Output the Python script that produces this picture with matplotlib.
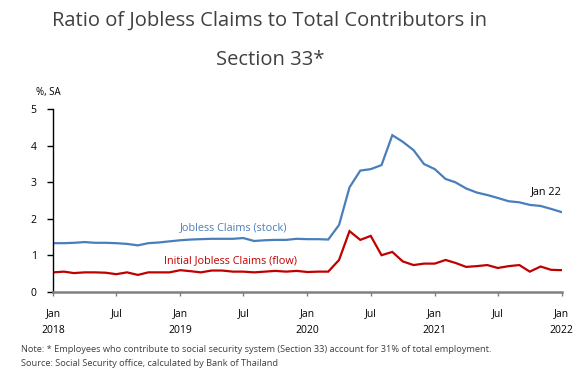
import matplotlib
matplotlib.use("Agg")
import matplotlib.pyplot as plt
import numpy as np
import pandas as pd

# Monthly series, Jan 2018 - Jan 2022 (% of Section 33 contributors, SA)
months = pd.date_range("2018-01-01", "2022-01-01", freq="MS")

stock = [
    1.33, 1.33, 1.34, 1.36, 1.34, 1.34, 1.33, 1.31, 1.27, 1.33, 1.35, 1.38,   # 2018
    1.41, 1.43, 1.44, 1.45, 1.45, 1.45, 1.47, 1.39, 1.41, 1.42, 1.42, 1.45,   # 2019
    1.44, 1.44, 1.43, 1.83, 2.86, 3.32, 3.36, 3.47, 4.29, 4.11, 3.88, 3.50,   # 2020
    3.36, 3.09, 3.00, 2.83, 2.72, 2.65, 2.57, 2.48, 2.45, 2.38, 2.35, 2.27,   # 2021
    2.18,                                                                     # 2022
]

flow = [
    0.53, 0.55, 0.51, 0.53, 0.53, 0.52, 0.48, 0.53, 0.46, 0.53, 0.53, 0.53,   # 2018
    0.59, 0.56, 0.53, 0.58, 0.58, 0.55, 0.55, 0.53, 0.55, 0.57, 0.55, 0.57,   # 2019
    0.54, 0.55, 0.55, 0.87, 1.66, 1.42, 1.53, 1.00, 1.09, 0.83, 0.73, 0.77,   # 2020
    0.77, 0.87, 0.79, 0.68, 0.70, 0.73, 0.65, 0.70, 0.73, 0.55, 0.69, 0.60,   # 2021
    0.59,                                                                     # 2022
]

y_ticks = [0, 1, 2, 3, 4, 5]
tick_months = pd.date_range("2018-01-01", "2022-01-01", freq="6MS")
tick_labels = [f"{d.strftime('%b')}\n{d.year}" if d.month == 1 else d.strftime("%b")
               for d in tick_months]

BLUE = "#4a7ebb"
RED = "#c00000"
TEXT = "#404040"

plt.rcParams["font.family"] = ["Open Sans", "DejaVu Sans"]

fig = plt.figure(figsize=(5.81, 3.69), dpi=100)
ax = fig.add_axes([0.0917, 0.2095, 0.8753, 0.4943])

ax.plot(months, stock, color=BLUE, lw=1.6, solid_joinstyle="miter")
ax.plot(months, flow, color=RED, lw=1.6, solid_joinstyle="miter")

ax.set_xlim(months[0], months[-1])
ax.set_ylim(0, 5)
ax.set_yticks(y_ticks)
ax.set_xticks(tick_months)
ax.set_xticklabels(tick_labels, linespacing=1.75)

for s in ("top", "right"):
    ax.spines[s].set_visible(False)
ax.spines["left"].set_color("black")
ax.spines["left"].set_linewidth(1.0)
ax.spines["bottom"].set_color("#808080")
ax.spines["bottom"].set_linewidth(1.8)

ax.tick_params(axis="y", length=4, width=1, color="black", labelsize=7.5,
               labelcolor="black", pad=8)
ax.tick_params(axis="x", length=3, width=1, color="#808080", labelsize=7.5,
               labelcolor="black", pad=9)
for lbl in ax.get_xticklabels():
    lbl.set_verticalalignment("top")
    lbl.set_horizontalalignment("center")

# Series labels
ax.text(months[22] + pd.Timedelta(days=3), 1.75, "Jobless Claims (stock)", color=BLUE,
        fontsize=7.8, ha="right", va="center")
ax.text(months[23] + pd.Timedelta(days=2), 0.84, "Initial Jobless Claims (flow)",
        color=RED, fontsize=7.8, ha="right", va="center")
ax.text(months[-1], 2.75, "Jan 22", color="black", fontsize=7.8,
        ha="right", va="center")

# Unit label
fig.text(36 / 581, 1 - 92 / 369, "%, SA", fontsize=7, color="black",
         ha="left", va="center")

# Title
fig.text(270 / 581, 1 - 21 / 369, "Ratio of Jobless Claims to Total Contributors in",
         fontsize=14.5, color=TEXT, ha="center", va="center")
fig.text(270 / 581, 1 - 60 / 369, "Section 33*", fontsize=14.5, color=TEXT,
         ha="center", va="center")

# Footnotes
fig.text(21 / 581, 1 - 349 / 369,
         "Note: * Employees who contribute to social security system (Section 33) "
         "account for 31% of total employment.",
         fontsize=6.65, color=TEXT, ha="left", va="center")
fig.text(21 / 581, 1 - 363 / 369,
         "Source: Social Security office, calculated by Bank of Thailand",
         fontsize=6.65, color=TEXT, ha="left", va="center")

fig.savefig("out.png", dpi=100)
